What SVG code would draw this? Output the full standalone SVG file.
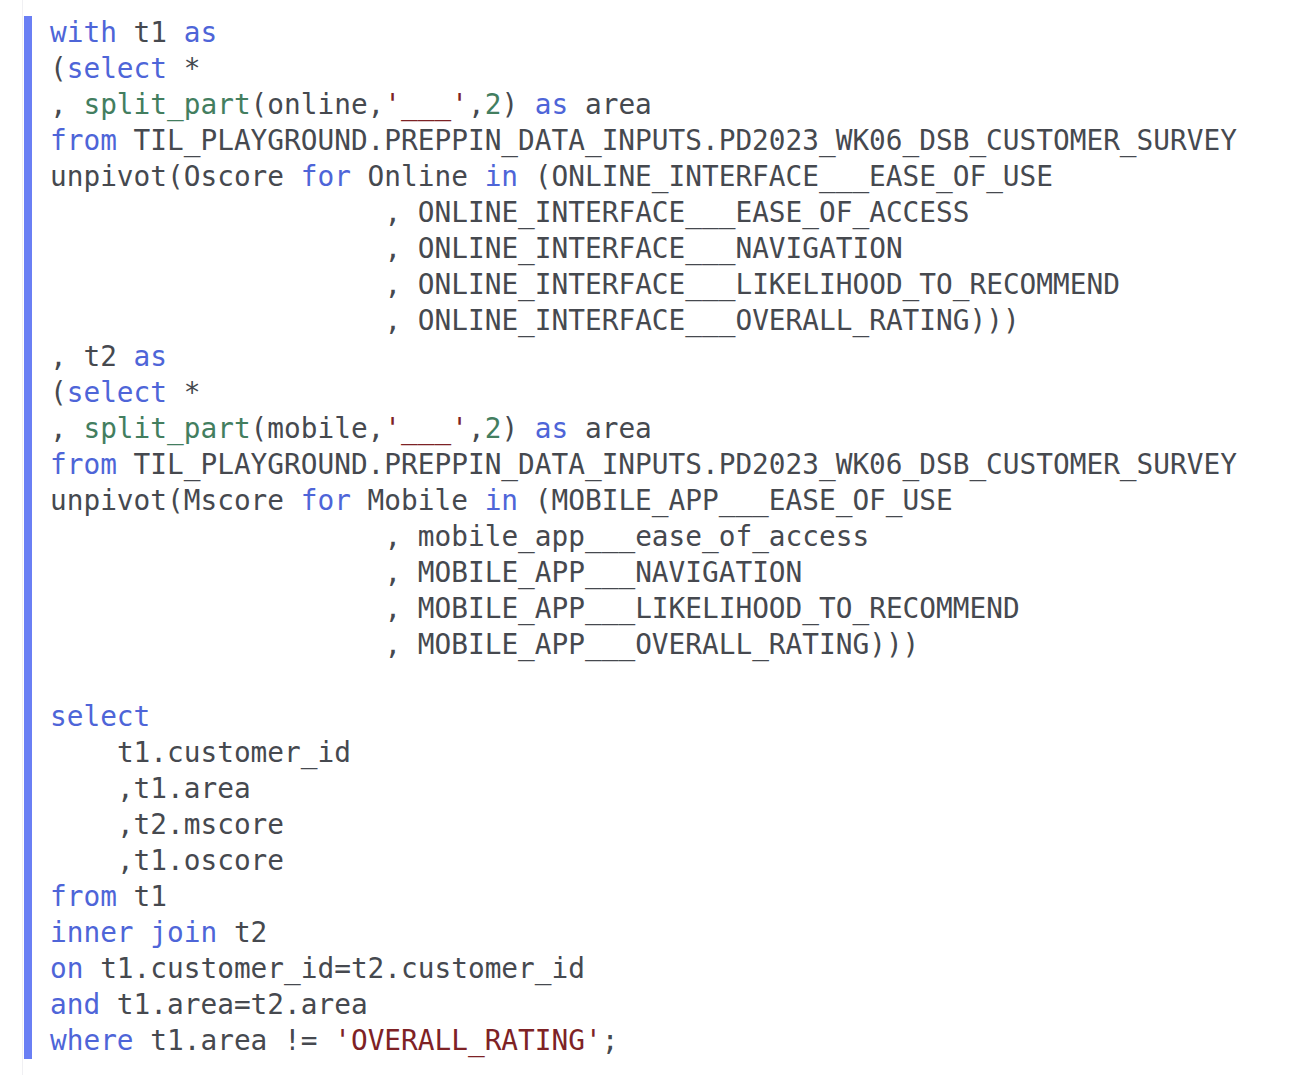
<svg xmlns="http://www.w3.org/2000/svg" width="1298" height="1075" viewBox="0 0 1298 1075">
<style>
text{font-family:"DejaVu Sans Mono","Liberation Mono",monospace;font-size:27.77px;fill:#46494f;white-space:pre}
.k{fill:#4e65d8}
.f{fill:#437e5f}
.s{fill:#7e2225}
</style>
<rect x="0" y="0" width="1298" height="1075" fill="#ffffff"/>
<line x1="22.5" y1="0" x2="22.5" y2="1075" stroke="#f0f0f3" stroke-width="1"/>
<rect id="bar" x="24" y="16" width="8" height="1043" fill="#6a7ff4"/>
<g id="code">
<text x="50" y="41.5" xml:space="preserve"><tspan class="k">with</tspan> t1 <tspan class="k">as</tspan></text>
<text x="50" y="77.5" xml:space="preserve">(<tspan class="k">select</tspan> *</text>
<text x="50" y="113.5" xml:space="preserve">, <tspan class="f">split_part</tspan>(online,<tspan class="s">'___'</tspan>,<tspan class="f">2</tspan>) <tspan class="k">as</tspan> area</text>
<text x="50" y="149.5" xml:space="preserve"><tspan class="k">from</tspan> TIL_PLAYGROUND.PREPPIN_DATA_INPUTS.PD2023_WK06_DSB_CUSTOMER_SURVEY</text>
<text x="50" y="185.5" xml:space="preserve">unpivot(Oscore <tspan class="k">for</tspan> Online <tspan class="k">in</tspan> (ONLINE_INTERFACE___EASE_OF_USE</text>
<text x="384.4" y="221.5" xml:space="preserve">, ONLINE_INTERFACE___EASE_OF_ACCESS</text>
<text x="384.4" y="257.5" xml:space="preserve">, ONLINE_INTERFACE___NAVIGATION</text>
<text x="384.4" y="293.5" xml:space="preserve">, ONLINE_INTERFACE___LIKELIHOOD_TO_RECOMMEND</text>
<text x="384.4" y="329.5" xml:space="preserve">, ONLINE_INTERFACE___OVERALL_RATING)))</text>
<text x="50" y="365.5" xml:space="preserve">, t2 <tspan class="k">as</tspan></text>
<text x="50" y="401.5" xml:space="preserve">(<tspan class="k">select</tspan> *</text>
<text x="50" y="437.5" xml:space="preserve">, <tspan class="f">split_part</tspan>(mobile,<tspan class="s">'___'</tspan>,<tspan class="f">2</tspan>) <tspan class="k">as</tspan> area</text>
<text x="50" y="473.5" xml:space="preserve"><tspan class="k">from</tspan> TIL_PLAYGROUND.PREPPIN_DATA_INPUTS.PD2023_WK06_DSB_CUSTOMER_SURVEY</text>
<text x="50" y="509.5" xml:space="preserve">unpivot(Mscore <tspan class="k">for</tspan> Mobile <tspan class="k">in</tspan> (MOBILE_APP___EASE_OF_USE</text>
<text x="384.4" y="545.5" xml:space="preserve">, mobile_app___ease_of_access</text>
<text x="384.4" y="581.5" xml:space="preserve">, MOBILE_APP___NAVIGATION</text>
<text x="384.4" y="617.5" xml:space="preserve">, MOBILE_APP___LIKELIHOOD_TO_RECOMMEND</text>
<text x="384.4" y="653.5" xml:space="preserve">, MOBILE_APP___OVERALL_RATING)))</text>
<text x="50" y="725.5" xml:space="preserve"><tspan class="k">select</tspan></text>
<text x="116.9" y="761.5" xml:space="preserve">t1.customer_id</text>
<text x="116.9" y="797.5" xml:space="preserve">,t1.area</text>
<text x="116.9" y="833.5" xml:space="preserve">,t2.mscore</text>
<text x="116.9" y="869.5" xml:space="preserve">,t1.oscore</text>
<text x="50" y="905.5" xml:space="preserve"><tspan class="k">from</tspan> t1</text>
<text x="50" y="941.5" xml:space="preserve"><tspan class="k">inner</tspan> <tspan class="k">join</tspan> t2</text>
<text x="50" y="977.5" xml:space="preserve"><tspan class="k">on</tspan> t1.customer_id=t2.customer_id</text>
<text x="50" y="1013.5" xml:space="preserve"><tspan class="k">and</tspan> t1.area=t2.area</text>
<text x="50" y="1049.5" xml:space="preserve"><tspan class="k">where</tspan> t1.area != <tspan class="s">'OVERALL_RATING'</tspan>;</text>
</g>
</svg>
